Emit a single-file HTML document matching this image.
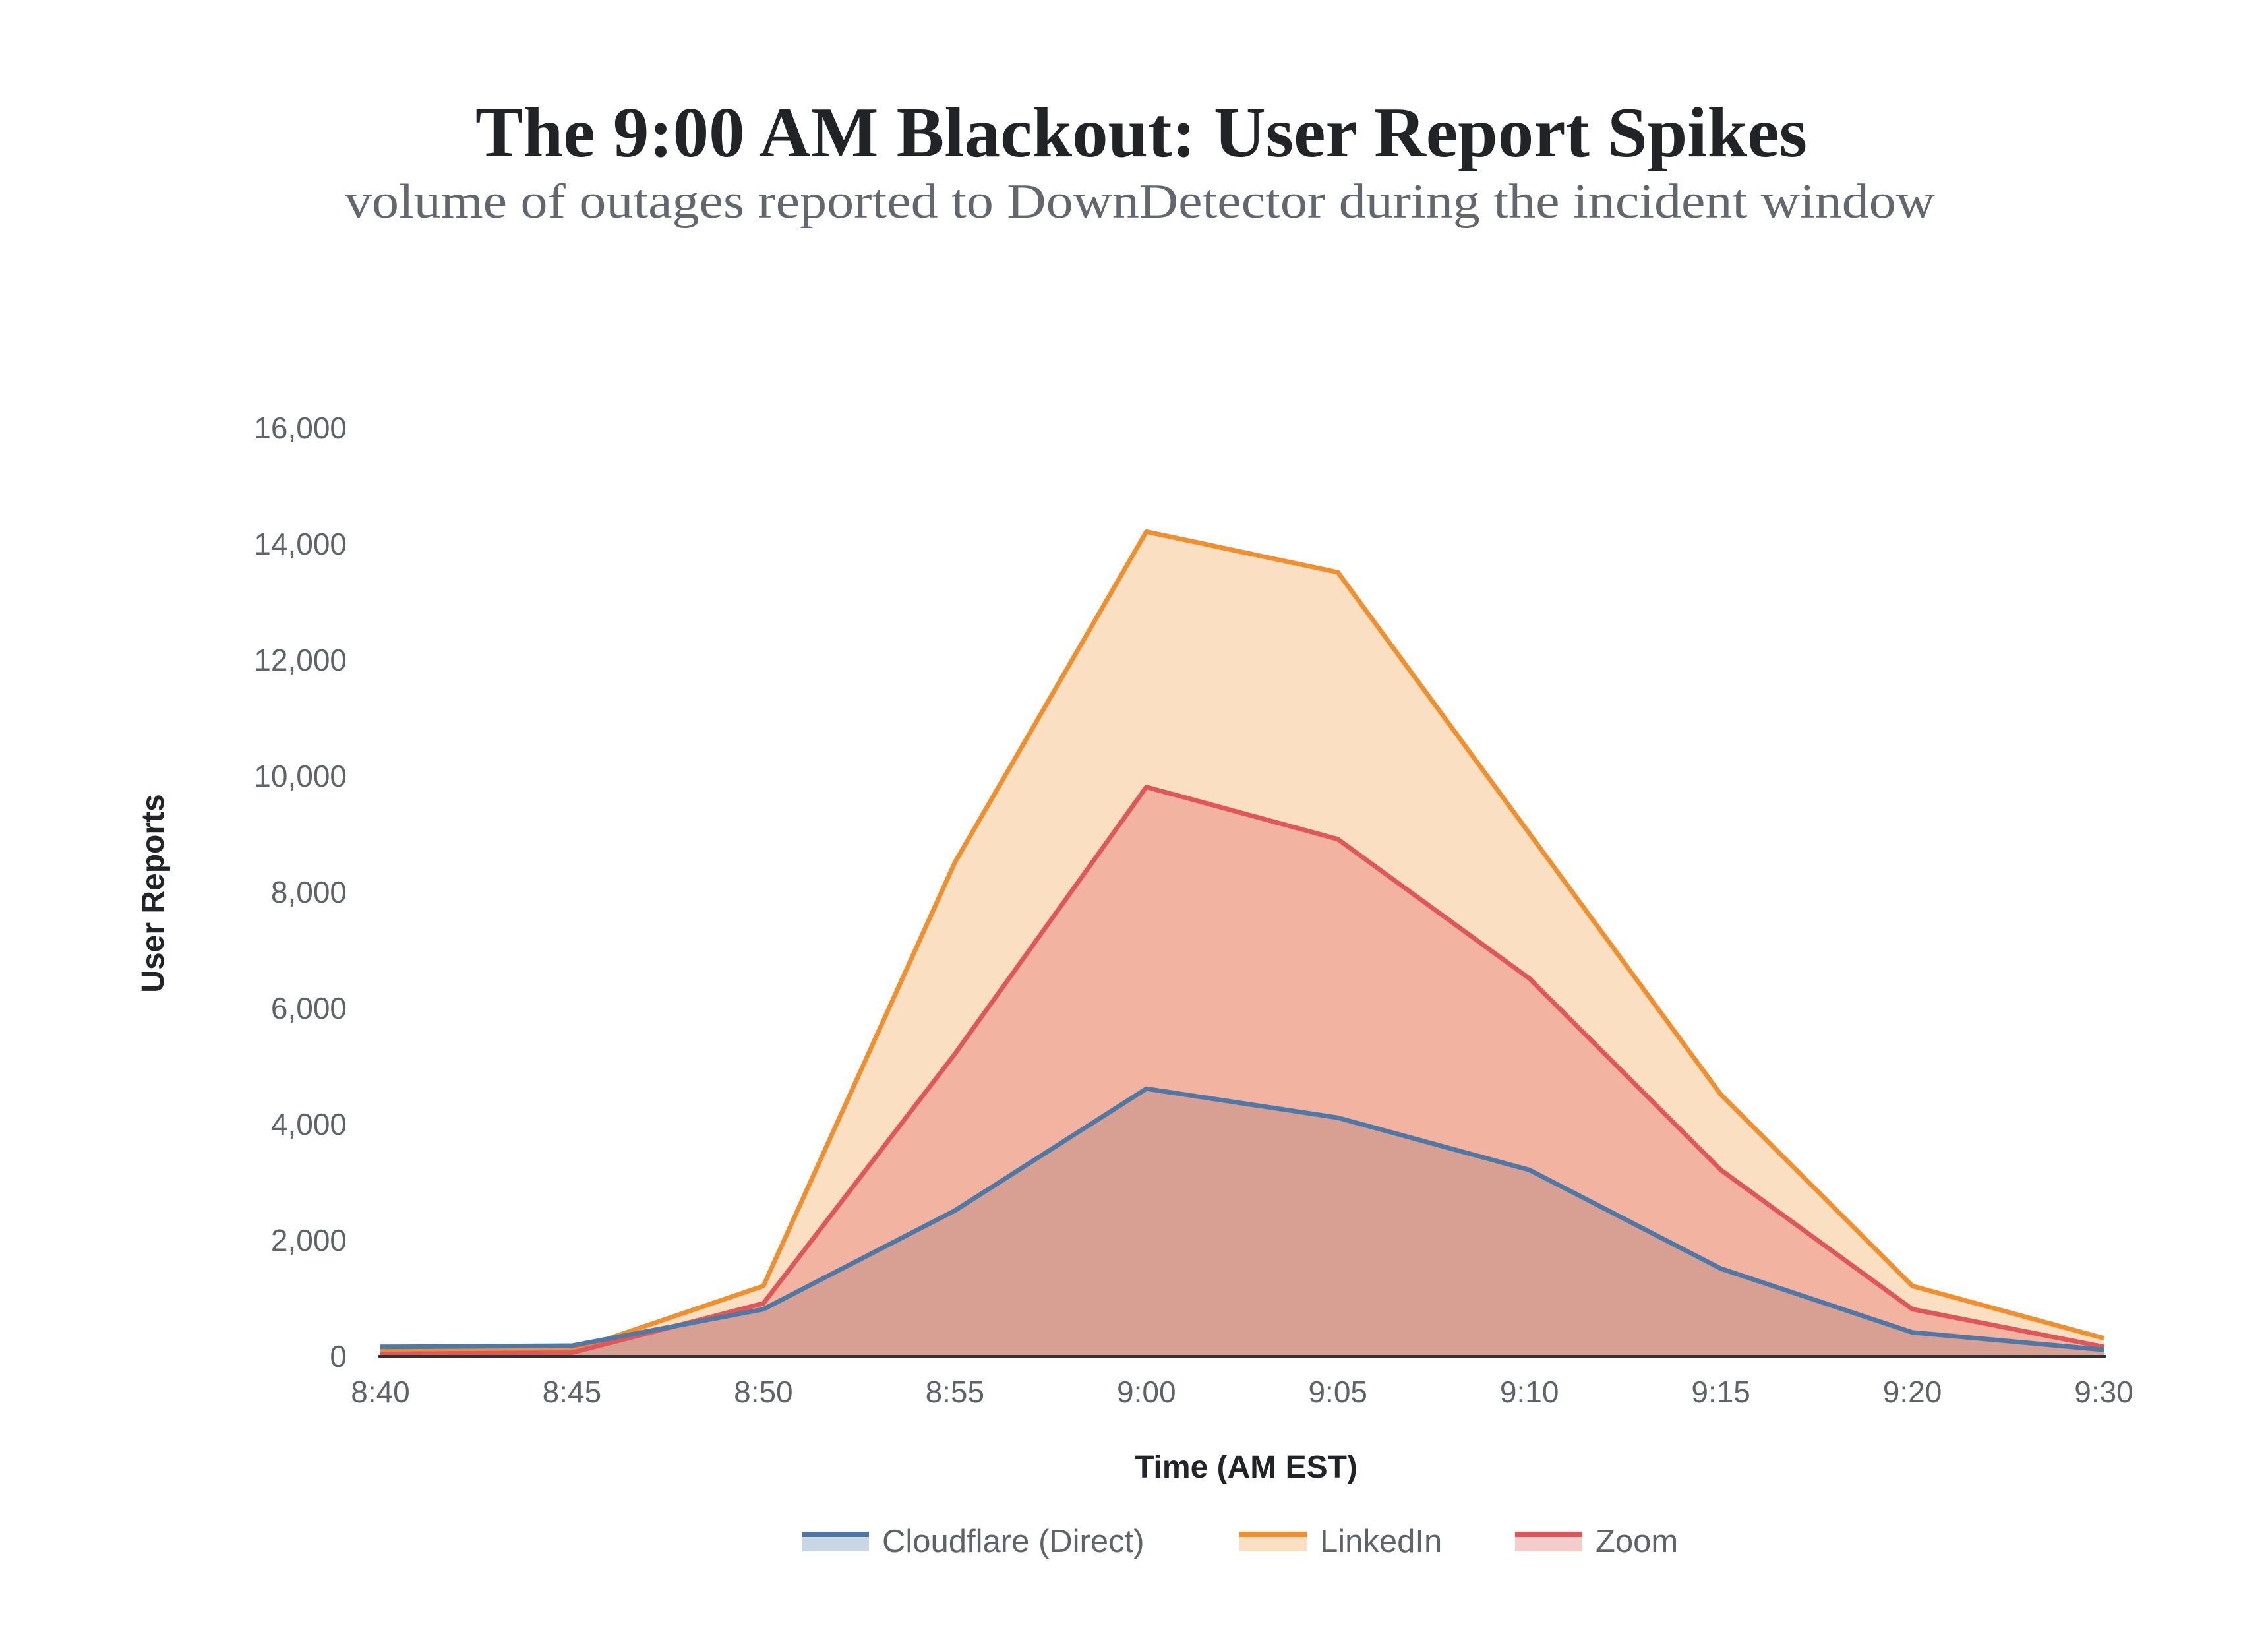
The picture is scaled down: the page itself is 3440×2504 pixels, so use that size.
<!DOCTYPE html>
<html><head><meta charset="utf-8"><style>
html,body{margin:0;padding:0;background:#fff;}
svg{display:block;}
</style></head><body>
<svg id="chart" width="3440" height="2504" viewBox="0 0 3440 2504" xmlns="http://www.w3.org/2000/svg">
<text x="1731" y="237" text-anchor="middle" font-family="Liberation Serif, serif" font-weight="bold" font-size="108" fill="#222326" textLength="2020" lengthAdjust="spacingAndGlyphs">The 9:00 AM Blackout: User Report Spikes</text>
<text x="1729" y="330" text-anchor="middle" font-family="Liberation Serif, serif" font-size="74" fill="#63666c" textLength="2412" lengthAdjust="spacingAndGlyphs">volume of outages reported to DownDetector during the incident window</text>
<g id="plot"></g>
<text transform="translate(248,1355) rotate(-90)" text-anchor="middle" font-family="Liberation Sans, sans-serif" font-weight="bold" font-size="48" fill="#222326">User Reports</text>
<text x="1890" y="2241" text-anchor="middle" font-family="Liberation Sans, sans-serif" font-weight="bold" font-size="48" fill="#222326">Time (AM EST)</text>
<g id="legend"></g>
</svg>
<script>
const categories = ["8:40","8:45","8:50","8:55","9:00","9:05","9:10","9:15","9:20","9:30"];
const cloudflare = [150,170,800,2500,4600,4100,3200,1500,400,100];
const linkedin = [80,80,1200,8500,14200,13500,9000,4500,1200,300];
const zoom = [30,50,900,5200,9800,8900,6500,3200,800,150];
const yTicks = [0,2000,4000,6000,8000,10000,12000,14000,16000];
const seriesNames = ["Cloudflare (Direct)","LinkedIn","Zoom"];

const NS="http://www.w3.org/2000/svg";
const X0=577,X1=3191,Y0=2056,Y1=648,YMAX=16000;
const xs=i=>X0+(X1-X0)*i/(categories.length-1);
const ys=v=>Y0-(Y0-Y1)*v/YMAX;
const plot=document.getElementById('plot');
function mk(tag,attrs,parent){const e=document.createElementNS(NS,tag);for(const k in attrs)e.setAttribute(k,attrs[k]);parent.appendChild(e);return e;}

yTicks.forEach(t=>{
  const el=mk('text',{x:526,y:ys(t)+17,'text-anchor':'end','font-family':'Liberation Sans, sans-serif','font-size':46,fill:'#5f6368'},plot);
  el.textContent=t.toLocaleString('en-US');
  
  
});
categories.forEach((c,i)=>{
  const el=mk('text',{x:xs(i),y:2127,'text-anchor':'middle','font-family':'Liberation Sans, sans-serif','font-size':46,fill:'#5f6368'},plot);
  el.textContent=c;
  
  
});

const series=[
  {key:'linkedin',vals:linkedin,line:'#f28e2b',fill:'#fadfc2'},
  {key:'zoom',vals:zoom,line:'#e15759',fill:'#f2b4a0'},
  {key:'cloudflare',vals:cloudflare,line:'#4e79a7',fill:'#d8a092'}
];
series.forEach(s=>{
  let d='M'+xs(0)+','+Y0;
  s.vals.forEach((v,i)=>{d+=' L'+xs(i)+','+ys(v);});
  d+=' L'+xs(s.vals.length-1)+','+Y0+' Z';
  const a=mk('path',{d:d,fill:s.fill},plot);
  
  
});
series.forEach(s=>{
  const pts=s.vals.map((v,i)=>xs(i)+','+ys(v)).join(' ');
  const l=mk('polyline',{points:pts,fill:'none',stroke:s.line,'stroke-width':7,'stroke-linejoin':'round'},plot);
  
  
});
const ax=mk('line',{x1:X0-3,x2:X1+3,y1:Y0+1,y2:Y0+1,stroke:'#333',"stroke-width":4},plot);



const legend=document.getElementById('legend');
const leg=[
  {name:seriesNames[0],x:1216,line:'#4e79a7',fill:'#c9d7e5'},
  {name:seriesNames[1],x:1880,line:'#f28e2b',fill:'#fadfc2'},
  {name:seriesNames[2],x:2298,line:'#e15759',fill:'#f4cccc'}
];
leg.forEach(l=>{
  const g=mk('g',{},legend);
  
  
  mk('rect',{x:l.x,y:2323,width:102,height:30,fill:l.fill},g);
  mk('rect',{x:l.x,y:2323,width:102,height:8,fill:l.line},g);
  const t=mk('text',{x:l.x+122,y:2354,'font-family':'Liberation Sans, sans-serif','font-size':49,fill:'#5f6368'},g);
  t.textContent=l.name;
});
</script>
</body></html>
